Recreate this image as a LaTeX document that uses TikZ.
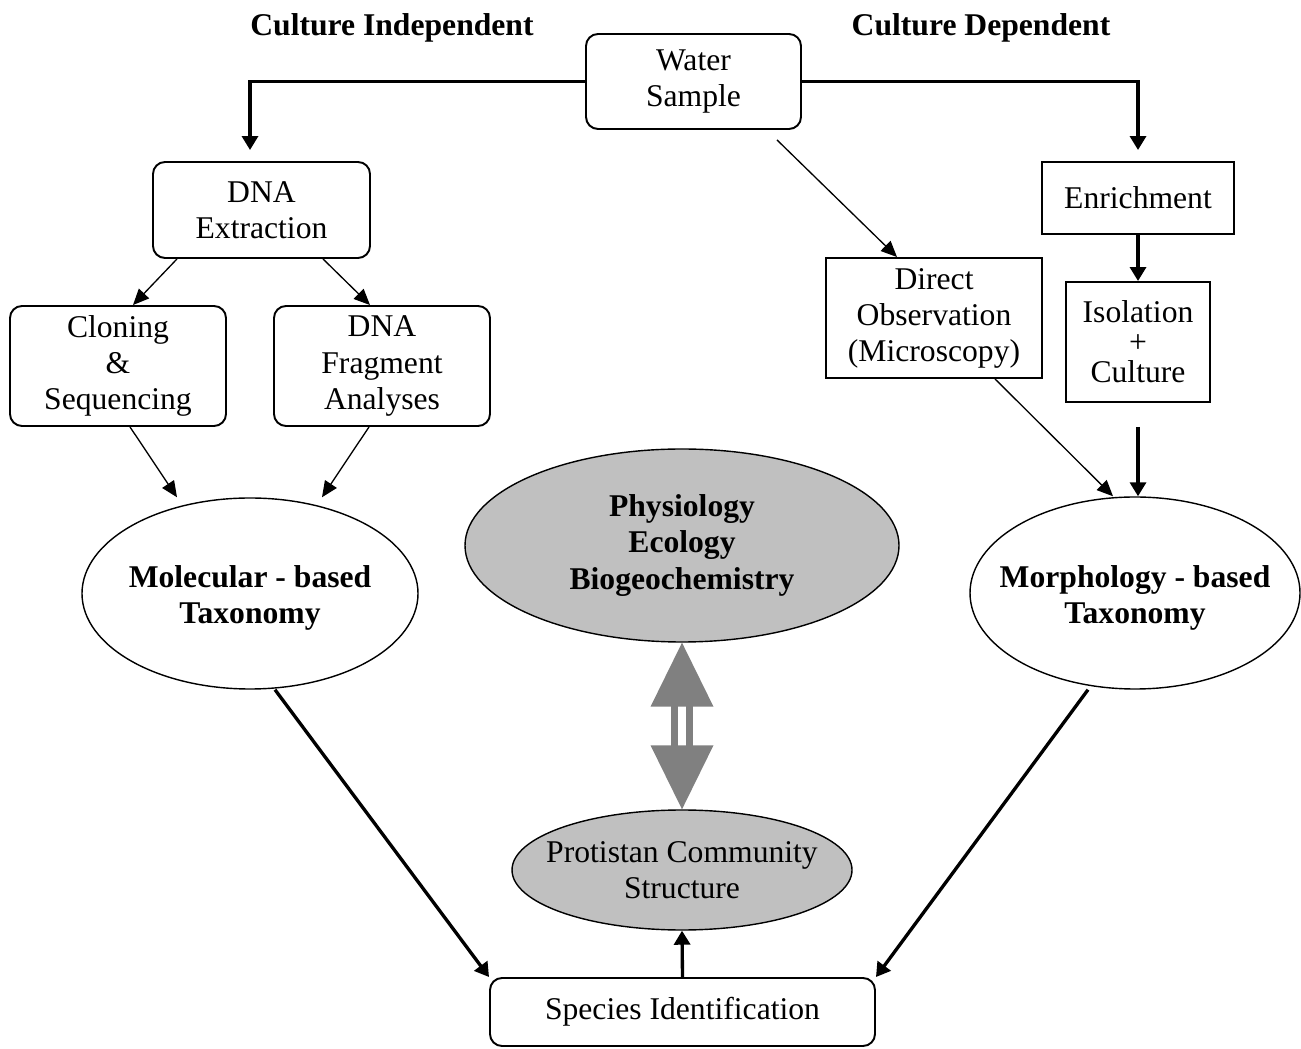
\documentclass[tikz,border=0pt]{standalone}
\usepackage{fontspec}
\setmainfont{Liberation Serif}
\usetikzlibrary{shapes.geometric, arrows.meta}
\definecolor{ovalgray}{HTML}{C0C0C0}
\definecolor{arrgray}{HTML}{808080}

\begin{document}
\begin{tikzpicture}[
  font=\fontsize{18}{20.5}\selectfont,
  rbox/.style={draw,line width=1.1pt,rounded corners=0.24cm,align=center,inner sep=0pt},
  sbox/.style={draw,line width=1.1pt,align=center,inner sep=0pt},
  oval/.style={draw,ellipse,line width=0.8pt,inner sep=0pt},
  goval/.style={oval,fill=ovalgray},
  boldtxt/.style={align=center,font=\fontsize{18}{20.5}\selectfont\bfseries},
  thinarr/.style={line width=0.75pt,-{Triangle[length=0.32cm,width=0.28cm]}},
  thickarr/.style={line width=1.9pt,-{Triangle[length=0.28cm,width=0.32cm]}}
]
\useasboundingbox (0,0) rectangle (26.02,20.96);

% headings
\node[boldtxt] (ci) at (7.84,20.41) {Culture Independent};
\node[boldtxt] (cd) at (19.62,20.41) {Culture Dependent};

% boxes
\node[rbox,minimum width=4.3cm,minimum height=1.9cm] (water) at (13.87,19.33) {Water\\Sample};
\node[rbox,minimum width=4.34cm,minimum height=1.92cm] (dna) at (5.23,16.76) {DNA\\Extraction};
\node[sbox,minimum width=3.84cm,minimum height=1.44cm] (enrich) at (22.76,17.0) {Enrichment};
\node[rbox,minimum width=4.32cm,minimum height=2.4cm] (clon) at (2.36,13.64) {Cloning\\\&\\Sequencing};
\node[rbox,minimum width=4.32cm,minimum height=2.4cm] (frag) at (7.64,13.64) {DNA\\Fragment\\Analyses};
\node[sbox,minimum width=4.32cm,minimum height=2.4cm] (direct) at (18.68,14.6) {Direct\\Observation\\(Microscopy)};
\node[sbox,minimum width=2.88cm,minimum height=2.4cm,font=\fontsize{18}{17}\selectfont] (isol) at (22.76,14.12) {Isolation\\+\\Culture};

% ovals
\node[oval,minimum width=6.72cm,minimum height=3.82cm] (mol) at (5.0,9.09) {};
\node[boldtxt] (moltxt) at (5.0,9.0) {Molecular - based\\Taxonomy};
\node[goval,minimum width=8.68cm,minimum height=3.86cm] (phys) at (13.64,10.05) {};
\node[boldtxt] (phystxt) at (phys) {Physiology\\Ecology\\Biogeochemistry};
\node[oval,minimum width=6.6cm,minimum height=3.84cm] (morph) at (22.7,9.1) {};
\node[boldtxt] (morphtxt) at (22.7,9.0) {Morphology - based\\Taxonomy};
\node[goval,minimum width=6.8cm,minimum height=2.4cm] (prot) at (13.64,3.56) {};
\node[align=center] (prottxt) at (prot) {Protistan Community\\Structure};

\node[rbox,minimum width=7.7cm,minimum height=1.36cm] (spec) at (13.65,0.72) {Species Identification};

% connectors
\draw[thickarr,shorten >=0.22cm] (water.west) -| ([xshift=-0.23cm]dna.north);
\draw[thickarr,shorten >=0.22cm] (water.east) -| (enrich.north);
\draw[thickarr] (enrich.south) -- (isol.north);
\draw[thickarr] ([yshift=-0.48cm]isol.south) -- (isol.south |- morph.north);

\draw[thinarr] ([xshift=1.67cm,yshift=-0.2cm]water.south) -- ([xshift=-0.74cm]direct.north);
\draw[thinarr] ([xshift=1.22cm]direct.south) -- ([xshift=-0.44cm]morph.north);
\draw[thinarr] ([xshift=-1.69cm]dna.south) -- ([xshift=0.3cm]clon.north);
\draw[thinarr] ([xshift=1.23cm]dna.south) -- ([xshift=-0.24cm]frag.north);
\draw[thinarr] ([xshift=0.24cm]clon.south) -- ([xshift=-1.46cm]mol.north);
\draw[thinarr] ([xshift=-0.26cm]frag.south) -- ([xshift=1.44cm]mol.north);

\draw[thickarr] ([xshift=0.5cm]mol.south) -- (spec.north west);
\draw[thickarr] ([xshift=-0.94cm]morph.south) -- (spec.north east);
\draw[thickarr] (spec.north) -- (prot.south);

% big gray double arrow
\fill[arrgray] (phys.south) -- ++(0.63,-1.28) -- ++(-1.26,0) -- cycle;
\fill[arrgray] (prot.north) -- ++(0.63,1.28) -- ++(-1.26,0) -- cycle;
\draw[arrgray,line width=0.14cm] ([xshift=-0.15cm,yshift=-1.26cm]phys.south) -- ([xshift=-0.15cm,yshift=1.26cm]prot.north);
\draw[arrgray,line width=0.14cm] ([xshift=0.15cm,yshift=-1.26cm]phys.south) -- ([xshift=0.15cm,yshift=1.26cm]prot.north);

\end{tikzpicture}
\end{document}
